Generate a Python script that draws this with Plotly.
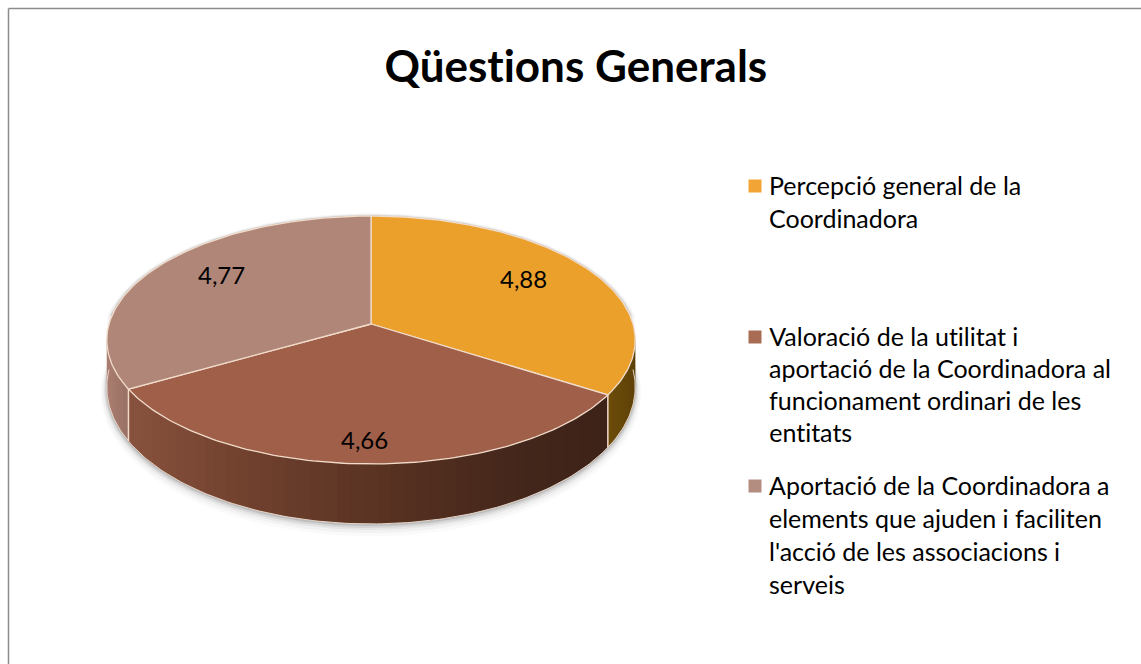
import numpy as np
import plotly.graph_objects as go

# ---- data ----
title_text = "Qüestions Generals"
categories = [
    "Percepció general de la Coordinadora",
    "Valoració de la utilitat i aportació de la Coordinadora al funcionament ordinari de les entitats",
    "Aportació de la Coordinadora a elements que ajuden i faciliten l'acció de les associacions i serveis",
]
values = [4.88, 4.66, 4.77]
legend_lines = [
    ["Percepció general de la", "Coordinadora"],
    ["Valoració de la utilitat i", "aportació de la Coordinadora al",
     "funcionament ordinari de les", "entitats"],
    ["Aportació de la Coordinadora a", "elements que ajuden i faciliten",
     "l'acció de les associacions i", "serveis"],
]

# ---- style / geometry ----
W, H = 1141, 664
CX, CY = 371, 324
RX, RY, K = 262.0, 121.9, 0.129
DEPTH = 45.5
top_colors = ["#eca02c", "#a05f49", "#b08678"]
legend_colors = ["#f2a535", "#a86c55", "#b28d80"]
seam = "#f1dccb"
side_x = [110, 130, 250, 390, 500, 605, 640]
side_rgb = [
    [(0x6f, 0x4e, 0x0a)] * 6 + [(0x5c, 0x40, 0x08)],
    [(0x8b, 0x54, 0x40), (0x88, 0x52, 0x3e), (0x70, 0x41, 0x2e), (0x58, 0x32, 0x22),
     (0x46, 0x28, 0x1c), (0x3e, 0x23, 0x19), (0x3e, 0x23, 0x19)],
    [(0xa8, 0x7c, 0x6f), (0x98, 0x70, 0x64), (0x90, 0x6a, 0x5e), (0x90, 0x6a, 0x5e),
     (0x90, 0x6a, 0x5e), (0x90, 0x6a, 0x5e), (0x90, 0x6a, 0x5e)],
]
label_radius = [0.69, 0.85, 0.69]
label_yshift = [7, 1, 9]
legend_x_marker, legend_x_text = 755, 767
legend_ys = [[185, 218], [336, 368, 400, 432], [485, 518, 551, 584]]
FONT = "Lato, Carlito, Calibri, sans-serif"


def project(a_deg, f=1.0):
    """a_deg is clockwise from the top of the pie; f the radial fraction."""
    a = np.radians(a_deg)
    X, Y = f * np.sin(a), -f * np.cos(a)   # Y > 0 is toward the viewer
    w = 1 - K * Y
    return CX + RX * X / w, CY + RY * Y / w


def depth(a_deg):
    Y = -np.cos(np.radians(a_deg))
    return DEPTH / (1 - K * Y) ** 2


fracs = np.array(values) / sum(values)
edges = np.concatenate([[0], np.cumsum(fracs) * 360])
fig = go.Figure()


def poly(x, y, fill, line=None, lw=0):
    fig.add_trace(go.Scatter(
        x=list(x), y=list(y), mode="lines", fill="toself", fillcolor=fill,
        line=dict(color=line or "rgba(0,0,0,0)", width=lw), hoverinfo="skip", showlegend=False))


def path(x, y, color, lw):
    fig.add_trace(go.Scatter(x=list(x), y=list(y), mode="lines",
                             line=dict(color=color, width=lw), hoverinfo="skip", showlegend=False))


# soft shadow behind the silhouette
ang = np.linspace(0, 360, 361)
tx, ty = project(ang)
dy = np.where((ang > 85) & (ang < 275), depth(ang), 0.0)
for grow, alpha in [(6, 0.03), (4.5, 0.05), (3, 0.08), (2, 0.12), (1, 0.2)]:
    sx = CX + (tx - CX) * (1 + grow / RX)
    sy = CY + (ty + dy - CY) * (1 + grow / RY) + grow * 0.4
    poly(sx, sy, f"rgba(90,90,90,{alpha})")

# side wall, strip by strip, coloured by horizontal position; each strip is
# painted over the end of the one before so no hairlines show between them
for i in range(3):
    lo, hi = max(edges[i], 90), min(edges[i + 1], 270)
    if hi <= lo:
        continue
    steps = np.linspace(lo, hi, max(2, int((hi - lo) / 2.5) + 1))
    rgb = np.array(side_rgb[i], dtype=float)
    for a0, a1 in zip(steps[:-1], steps[1:]):
        arc = np.linspace(a0, min(a1 + (a1 - a0), hi), 6)
        ax, ay = project(arc)
        ad = depth(arc)
        xm = project((a0 + a1) / 2)[0]
        c = [int(np.interp(xm, side_x, rgb[:, k])) for k in range(3)]
        col = f"rgb({c[0]},{c[1]},{c[2]})"
        poly(np.r_[ax, ax[::-1], ax[0]], np.r_[ay, (ay + ad)[::-1], ay[0]], col)

# pale rim along the lower edge and vertical seams
arc = np.linspace(90, 270, 181)
ax, ay = project(arc)
path(ax, ay + depth(arc), "#e8d8cc", 1)
for e in edges[1:-1]:
    if 90 <= e <= 270:
        sx, sy = project(e)
        path([sx, sx], [sy, sy + depth(e)], seam, 1.5)

# top faces
for i in range(3):
    arc = np.linspace(edges[i], edges[i + 1], 121)
    ax, ay = project(arc)
    poly(np.r_[CX, ax, CX], np.r_[CY, ay, CY], top_colors[i], seam, 1.3)

# value labels
annotations = []
mids = (edges[:-1] + edges[1:]) / 2
for v, m, f, ys in zip(values, mids, label_radius, label_yshift):
    lx, ly = project(m, f)
    annotations.append(dict(x=lx, y=ly, yshift=ys, text=f"{v:.2f}".replace(".", ","),
                            showarrow=False, font=dict(family=FONT, size=24, color="#000000")))

# legend
fig.add_trace(go.Scatter(
    x=[legend_x_marker] * 3, y=[ys[0] + 1 for ys in legend_ys], mode="markers",
    marker=dict(symbol="square", size=13, color=legend_colors, line=dict(width=0)),
    hoverinfo="skip", showlegend=False))
for lines, ys in zip(legend_lines, legend_ys):
    for txt, y in zip(lines, ys):
        annotations.append(dict(x=legend_x_text, y=y, text=txt, showarrow=False, xanchor="left",
                                font=dict(family=FONT, size=25, color="#000000")))

# title
annotations.append(dict(x=576, y=64.5, text=f"<b>{title_text}</b>", showarrow=False,
                        font=dict(family=FONT, size=44, color="#000000")))

fig.update_layout(
    width=W, height=H, margin=dict(l=0, r=0, t=0, b=0),
    paper_bgcolor="#ffffff", plot_bgcolor="#ffffff", showlegend=False,
    xaxis=dict(range=[0, W], visible=False, fixedrange=True),
    yaxis=dict(range=[H, 0], visible=False, fixedrange=True),
    annotations=annotations,
    shapes=[dict(type="line", x0=8.5, y0=8.5, x1=W, y1=8.5, line=dict(color="#8c8c8c", width=1.5)),
            dict(type="line", x0=8.5, y0=8.5, x1=8.5, y1=H, line=dict(color="#8c8c8c", width=1.5))],
)
fig.write_html("out.html", config=dict(displayModeBar=False),
               post_script="document.body.style.margin='0';document.body.style.overflow='hidden';"
                           "var s=document.createElement('style');"
                           "s.textContent='text,tspan{font-variant-ligatures:none !important;"
                           "font-feature-settings:\"liga\" 0,\"clig\" 0 !important;"
                           "text-rendering:optimizeSpeed !important}';"
                           "document.head.appendChild(s);")
